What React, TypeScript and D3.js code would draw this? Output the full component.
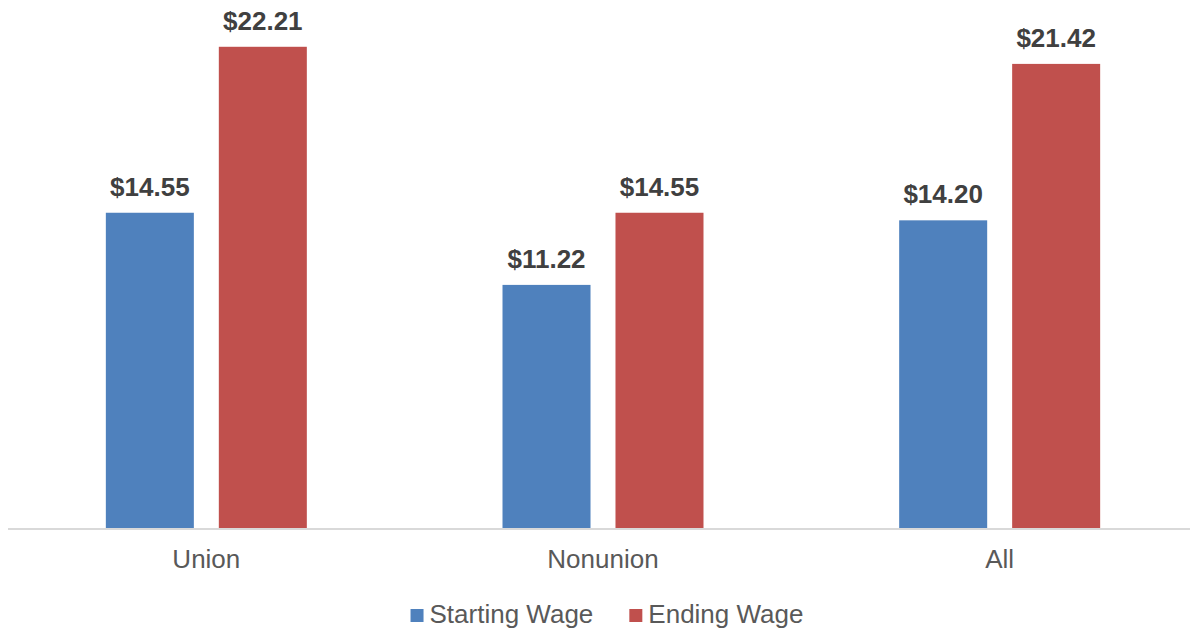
import React, { useEffect, useRef } from 'react';
import * as d3 from 'd3';

const categories = ['Union', 'Nonunion', 'All'];
const seriesNames = ['Starting Wage', 'Ending Wage'];
const startingWage = [14.55, 11.22, 14.2];
const endingWage = [22.21, 14.55, 21.42];
const seriesColors = ['#4f81bd', '#c0504d'];

const App: React.FC = () => {
  const svgRef = useRef<SVGSVGElement>(null);

  useEffect(() => {
    if (!svgRef.current) return;
    document.body.style.margin = '0';

    const width = 1190;
    const height = 630;
    const svg = d3.select(svgRef.current);
    svg.selectAll('*').remove();
    svg.attr('width', width).attr('height', height)
      .style('font-family', '"Liberation Sans", Arial, sans-serif');

    svg.append('rect').attr('width', width).attr('height', height).attr('fill', '#fff');

    const x0 = d3.scaleBand().domain(categories).range([8, 1198]);
    // bars 88px wide with a 25px gap inside each category
    const x1 = d3.scaleBand().domain(seriesNames).range([0, x0.bandwidth()])
      .paddingInner(0.221).paddingOuter(0.866);
    const y = d3.scaleLinear().domain([0, 24]).range([528, 8]);

    const rows = categories.map((c, i) => ({
      category: c,
      values: [startingWage[i], endingWage[i]],
    }));

    const group = svg.append('g').selectAll('g')
      .data(rows)
      .join('g')
      .attr('transform', d => `translate(${x0(d.category)},0)`);

    group.selectAll('rect')
      .data(d => d.values.map((v, j) => ({ v, j })))
      .join('rect')
      .attr('x', d => x1(seriesNames[d.j])!)
      .attr('y', d => y(d.v))
      .attr('width', x1.bandwidth())
      .attr('height', d => y(0) - y(d.v))
      .attr('fill', d => seriesColors[d.j]);

    group.selectAll('text.val')
      .data(d => d.values.map((v, j) => ({ v, j })))
      .join('text')
      .attr('class', 'val')
      .attr('x', d => x1(seriesNames[d.j])! + x1.bandwidth() / 2)
      .attr('y', d => y(d.v) - 17)
      .attr('text-anchor', 'middle')
      .attr('font-size', 26)
      .attr('font-weight', 'bold')
      .attr('fill', '#404040')
      .text(d => `$${d.v.toFixed(2)}`);

    // baseline
    svg.append('line')
      .attr('x1', 8).attr('x2', width)
      .attr('y1', y(0) + 1).attr('y2', y(0) + 1)
      .attr('stroke', '#d9d9d9').attr('stroke-width', 2);

    // category labels
    svg.append('g').selectAll('text')
      .data(categories)
      .join('text')
      .attr('x', d => x0(d)! + x0.bandwidth() / 2)
      .attr('y', 568)
      .attr('text-anchor', 'middle')
      .attr('font-size', 26)
      .attr('fill', '#595959')
      .text(d => d);

    // legend
    const legend = svg.append('g');
    const items = legend.selectAll('g')
      .data(seriesNames)
      .join('g');
    items.append('rect')
      .attr('y', 609).attr('width', 13).attr('height', 13)
      .attr('fill', (d, i) => seriesColors[i]);
    items.append('text')
      .attr('x', 19).attr('y', 623)
      .attr('font-size', 26)
      .attr('fill', '#595959')
      .text(d => d);

    let offset = 0;
    const gap = 36;
    const widths: number[] = [];
    items.each(function () {
      const t = d3.select(this).select('text').node() as SVGTextElement;
      widths.push(19 + t.getComputedTextLength());
    });
    const total = d3.sum(widths) + gap * (widths.length - 1);
    const start = 607 - total / 2;
    items.attr('transform', (d, i) => {
      const tx = start + offset;
      offset += widths[i] + gap;
      return `translate(${tx},0)`;
    });
  }, []);

  return <svg ref={svgRef} style={{ display: 'block' }} />;
};

export default App;
